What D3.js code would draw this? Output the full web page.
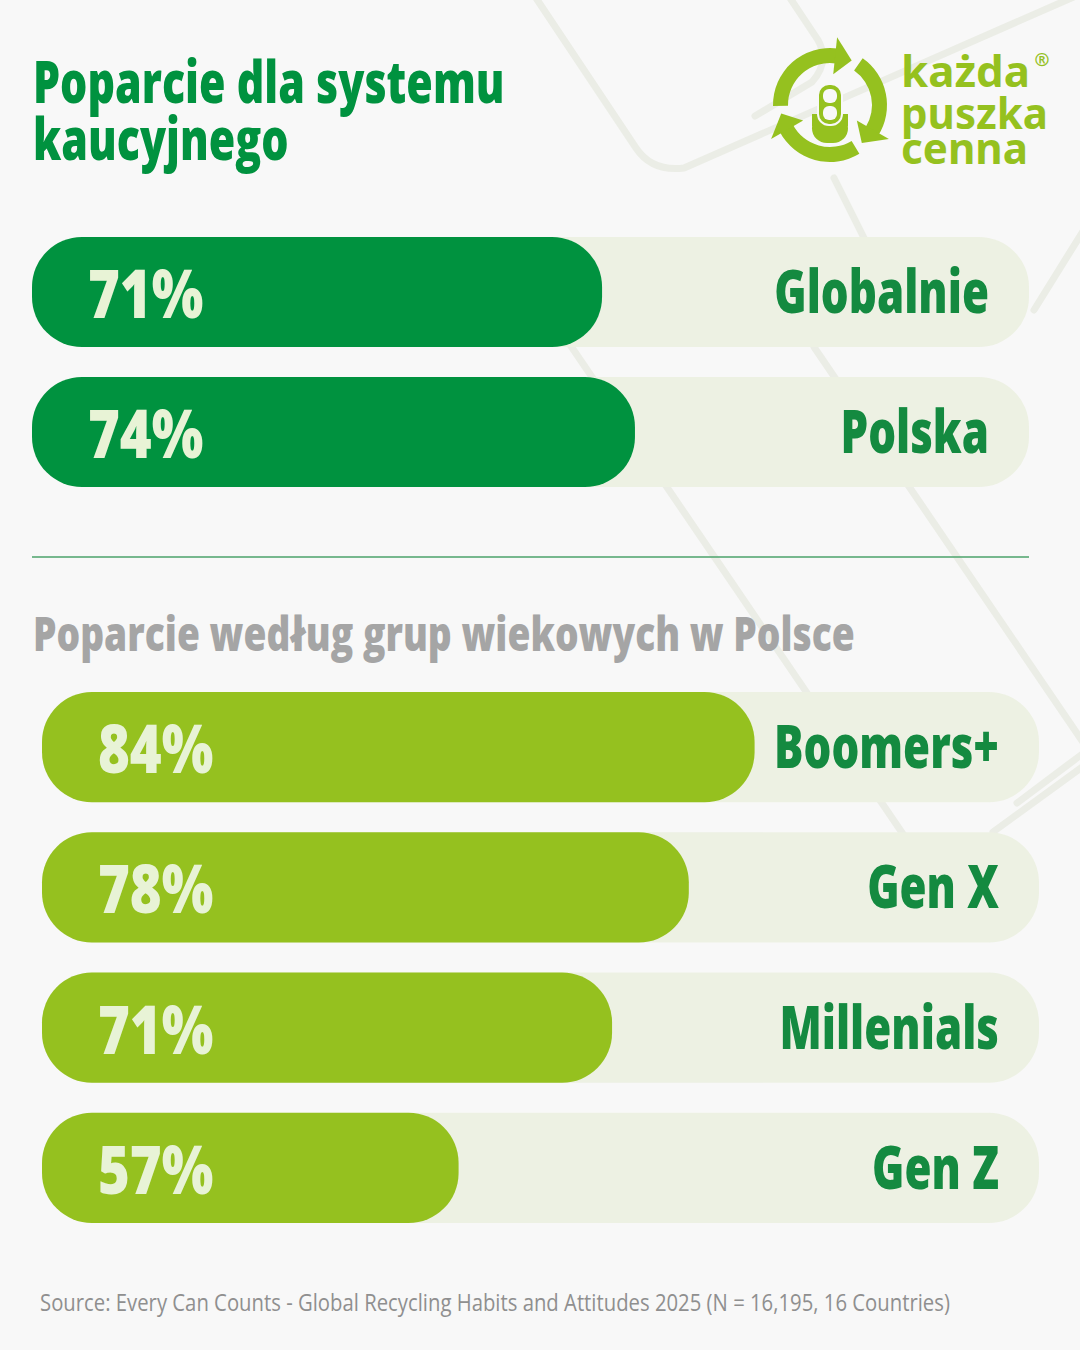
<!DOCTYPE html>
<html><head><meta charset="utf-8">
<script src="https://cdn.jsdelivr.net/npm/d3@7"></script>
<style>html,body{margin:0;padding:0;background:#f8f8f8;} svg{display:block;}</style>
</head><body><div id="chart"></div>
<script>
// ---------- data ----------
const overallCategories = ["Globalnie", "Polska"];
const overallValues = [71, 74];
const ageCategories = ["Boomers+", "Gen X", "Millenials", "Gen Z"];
const ageValues = [84, 78, 71, 57];
const titleLines = ["Poparcie dla systemu", "kaucyjnego"];
const subtitleText = "Poparcie według grup wiekowych w Polsce";
const sourceText = "Source: Every Can Counts - Global Recycling Habits and Attitudes 2025 (N = 16,195, 16 Countries)";
const logoLines = ["każda", "puszka", "cenna"];

// ---------- setup ----------
const W = 1080, H = 1350;
const FONT = "'Open Sans', 'Noto Sans', sans-serif";
const C = {
  bg: "#f8f8f8", deco: "#ebede6", dark: "#00923f", lime: "#95c11f",
  track: "#edf1e3", label: "#148a40", valText: "#e8f3d6", sub: "#a5a5a5", src: "#8f8f8f", rule: "#4ca36b"
};
const svg = d3.select("#chart").append("svg").attr("width", W).attr("height", H);
svg.append("rect").attr("width", W).attr("height", H).attr("fill", C.bg);

// decorative background lines
const deco = [
  "M534,-5 L636,148 Q652,172 684,168 L1085,-8",
  "M788,-5 L818,40 Q830,62 812,82 L755,116",
  "M834,178 L880,270",
  "M560,330 L905,837",
  "M814,347 L1085,745",
  "M1085,228 L1034,310",
  "M1085,752 L1017,803",
  "M1085,765 L993,832"
];
svg.append("g").selectAll("path").data(deco).join("path")
  .attr("d", d => d).attr("fill", "none").attr("stroke", C.deco)
  .attr("stroke-width", 7).attr("stroke-linecap", "round");

// condensed text helper
function ctext(g, txt, x, y, k, opts) {
  return g.append("text")
    .attr("transform", `translate(${x},${y}) scale(${k},1)`)
    .attr("font-family", opts.family || FONT)
    .attr("font-weight", opts.weight || 800)
    .attr("font-size", opts.size)
    .attr("fill", opts.fill)
    .attr("text-anchor", opts.anchor || "start")
    .text(txt);
}

// ---------- title ----------
const gTitle = svg.append("g");
titleLines.forEach((l, i) => ctext(gTitle, l, 33, 103 + i * 57, 0.74, {size: 58, fill: C.dark}));

// ---------- logo ----------
const logo = svg.append("g");
const cx = 830, cy = 105, rIn = 42, rOut = 57;
const deg = Math.PI / 180;
const gaps = [262, 388, 502]; // d3 angles (deg) of the gaps
const arc = d3.arc().innerRadius(rIn).outerRadius(rOut);
const pt = (a, r) => [cx + r * Math.sin(a * deg), cy - r * Math.cos(a * deg)];
for (let i = 0; i < 3; i++) {
  const start = gaps[i] + 7;
  const endA = (i === 2 ? gaps[0] + 360 : gaps[i + 1]);
  logo.append("path").attr("transform", `translate(${cx},${cy})`)
    .attr("d", arc({startAngle: start * deg, endAngle: (endA - 20) * deg}))
    .attr("fill", C.lime);
  const b1 = pt(endA - 22, rIn - 11), b2 = pt(endA - 22, rOut + 11), tip = pt(endA - 2, (rIn + rOut) / 2);
  logo.append("path").attr("d", `M${b1}L${b2}L${tip}Z`).attr("fill", C.lime);
}
// can
logo.append("rect").attr("x", 812).attr("y", 114).attr("width", 36).attr("height", 29).attr("rx", 15).attr("fill", C.lime);
logo.append("rect").attr("x", 812).attr("y", 114).attr("width", 36).attr("height", 12).attr("fill", C.lime);
logo.append("rect").attr("x", 818).attr("y", 84).attr("width", 24).attr("height", 41).attr("rx", 11)
  .attr("fill", C.lime).attr("stroke", C.bg).attr("stroke-width", 2);
logo.append("rect").attr("x", 823).attr("y", 89).attr("width", 14).attr("height", 14).attr("rx", 6).attr("fill", C.bg);
logo.append("rect").attr("x", 823).attr("y", 106).attr("width", 14).attr("height", 14).attr("rx", 6).attr("fill", C.bg);
// wordmark
const lw = [129, 147, 127], lb = [87, 129, 164];
logoLines.forEach((l, i) => {
  logo.append("text").attr("x", 901).attr("y", lb[i])
    .attr("font-family", "'Noto Sans', sans-serif").attr("font-weight", 700).attr("font-size", 43)
    .attr("fill", C.lime).attr("textLength", lw[i]).attr("lengthAdjust", "spacingAndGlyphs").text(l);
});
logo.append("text").attr("x", 1042).attr("y", 66).attr("text-anchor", "middle")
  .attr("font-family", "'Noto Sans', sans-serif").attr("font-weight", 700).attr("font-size", 18)
  .attr("fill", C.lime).text("®");

// ---------- bars ----------
const trackW = 997, barR = 50;
const xw = d3.scaleLinear().domain([19, 100]).range([0, 888]);

function barGroup(cats, vals, x0, y0, y1, fillColor) {
  const y = d3.scaleBand().domain(cats).range([y0, y1]).paddingInner(30 / 140).paddingOuter(0);
  const rows = cats.map((c, i) => ({c, v: vals[i]}));
  const g = svg.append("g");
  const row = g.selectAll("g.row").data(rows).join("g").attr("class", "row")
    .attr("transform", d => `translate(${x0},${y(d.c)})`);
  const bh = y.bandwidth();
  row.append("rect").attr("width", trackW).attr("height", bh).attr("rx", barR).attr("fill", C.track);
  row.append("rect").attr("width", d => xw(d.v)).attr("height", bh).attr("rx", barR).attr("fill", fillColor);
  row.each(function(d) {
    const r = d3.select(this);
    ctext(r, d.v + "%", 56, bh / 2 + 26, 0.8, {size: 68, fill: C.valText});
    ctext(r, d.c, 957, bh / 2 + 21, 0.73, {size: 60, fill: C.label, anchor: "end"});
  });
}
barGroup(overallCategories, overallValues, 32, 237, 487, C.dark);

// divider
svg.append("line").attr("x1", 32).attr("x2", 1029).attr("y1", 557).attr("y2", 557)
  .attr("stroke", C.rule).attr("stroke-width", 1.5);

// subtitle
ctext(svg, subtitleText, 33, 651, 0.775, {size: 48, fill: C.sub});

barGroup(ageCategories, ageValues, 42, 692, 1223, C.lime);

// source
ctext(svg, sourceText, 40, 1311, 0.846, {size: 24, weight: 400, fill: C.src});
</script></body></html>
